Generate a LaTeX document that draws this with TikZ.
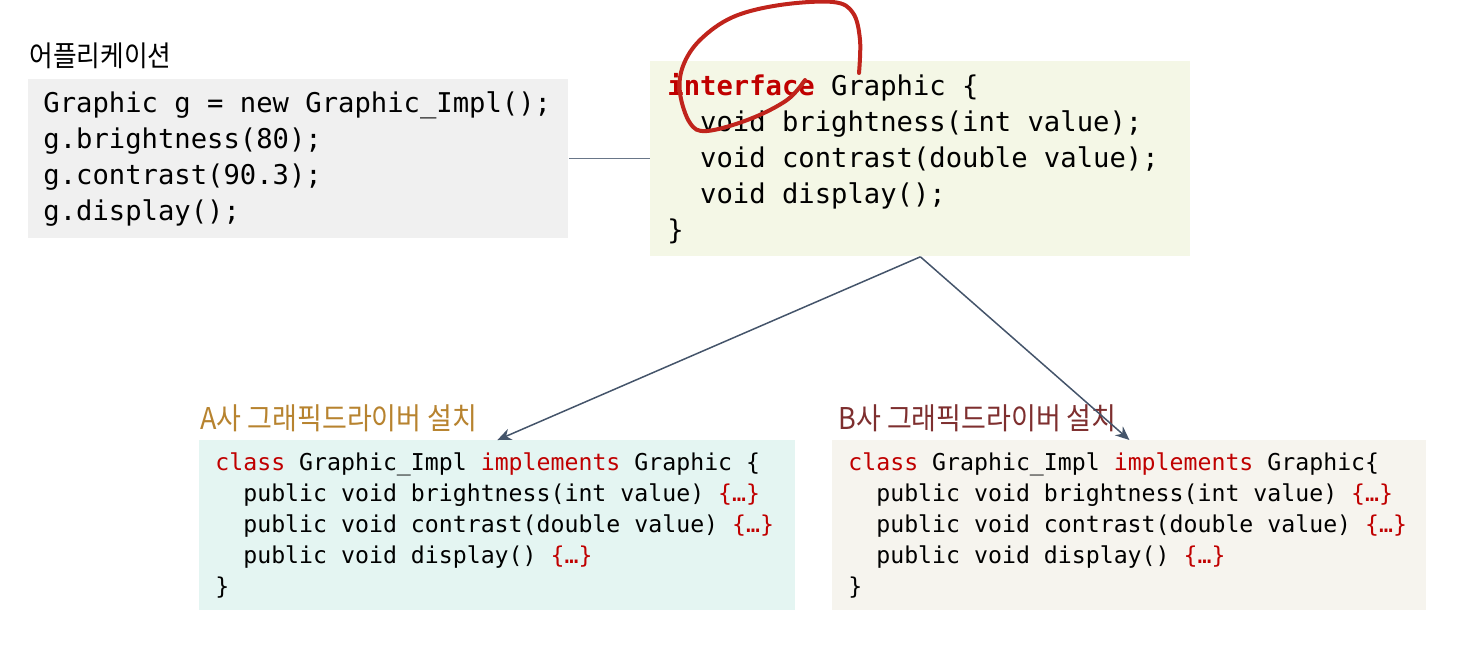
\documentclass[tikz,border=0pt]{standalone}
\usepackage{graphicx}
\usepackage{fontspec}
\setmonofont{DejaVu Sans Mono}
\newfontfamily\krfont{Noto Sans CJK KR}
\usetikzlibrary{arrows.meta, positioning}

\definecolor{appgray}{HTML}{F0F0F0}
\definecolor{ifacegreen}{HTML}{F4F7E6}
\definecolor{acyan}{HTML}{E4F5F2}
\definecolor{bbeige}{HTML}{F6F4EE}
\definecolor{alabel}{HTML}{B7832F}
\definecolor{blabel}{HTML}{7E2F2F}
\definecolor{codered}{HTML}{C00000}
\definecolor{linkgray}{HTML}{44546A}
\definecolor{penred}{HTML}{C0241C}

\newcommand{\kw}[1]{\textcolor{codered}{#1}}
\newcommand{\ind}{\phantom{xx}}
\newcommand{\fixedspace}{\spaceskip=0.602em\xspaceskip=0.602em\relax}

\begin{document}
\begin{tikzpicture}[x=0.5pt, y=-0.5pt,
        codebox/.style={anchor=north west, align=left, inner ysep=0pt, execute at begin node=\fixedspace},
        bigcode/.style={codebox, font=\ttfamily\fontsize{13.6}{18}\selectfont},
        smallcode/.style={codebox, font=\ttfamily\fontsize{11.6}{15.5}\selectfont, text width=282pt, inner xsep=8pt, minimum height=85pt},
        title/.style={anchor=base west, inner sep=0pt},
        link/.style={linkgray, line width=0.75pt, -{Stealth[length=7pt, width=6pt]}}
    ]
        \useasboundingbox (0,0) rectangle (1466,664);

        % Code boxes
        \node[bigcode, fill=appgray, text width=255pt, inner xsep=7.5pt, minimum height=79.5pt] (app) at (28,79)
            {Graphic g = new Graphic\_Impl();\\g.brightness(80);\\g.contrast(90.3);\\g.display();};
        \node[bigcode, fill=ifacegreen, text width=253pt, inner xsep=8.5pt, minimum height=97.5pt] (iface) at (650,61)
            {\textbf{\kw{interface}} Graphic \{\\\ind void brightness(int value);\\\ind void contrast(double value);\\\ind void display();\\\}};
        \node[smallcode, fill=acyan] (aimpl) at (199,440)
            {\kw{class} Graphic\_Impl \kw{implements} Graphic \{\\\ind public void brightness(int value) \kw{\{…\}}\\\ind public void contrast(double value) \kw{\{…\}}\\\ind public void display() \kw{\{…\}}\\\}};
        \node[smallcode, fill=bbeige, text width=281pt, inner xsep=8pt] (bimpl) at (832,440)
            {\kw{class} Graphic\_Impl \kw{implements} Graphic\{\\\ind public void brightness(int value) \kw{\{…\}}\\\ind public void contrast(double value) \kw{\{…\}}\\\ind public void display() \kw{\{…\}}\\\}};

        % Titles
        \node[title, font=\krfont\fontsize{14.3}{14.3}\selectfont] (applabel) at (29,66) {\scalebox{0.9}[1]{어플리케이션}};
        \node[title, font=\krfont\fontsize{15}{15}\selectfont, text=alabel] (alabel) at (200,429) {\scalebox{0.9}[1]{A사 그래픽드라이버 설치}};
        \node[title, font=\krfont\fontsize{15}{15}\selectfont, text=blabel] (blabel) at (838,429) {\scalebox{0.9}[1]{B사 그래픽드라이버 설치}};

        % Connectors
        \draw[linkgray!80, line width=0.5pt] (app.east) -- (iface.west);
        \draw[link] (iface.south) -- (aimpl.north);
        \draw[link] (iface.south) -- (bimpl.north);

        % Pen mark
        \draw[penred, line width=2pt, line cap=round] plot[smooth, tension=0.6] coordinates
            {(805,80) (787,100) (750,119) (707,131) (690,123) (680,93) (683,66) (700,40) (733,17) (780,5) (833,2) (853,13) (860,40) (859,73)};
    \end{tikzpicture}
\end{document}
